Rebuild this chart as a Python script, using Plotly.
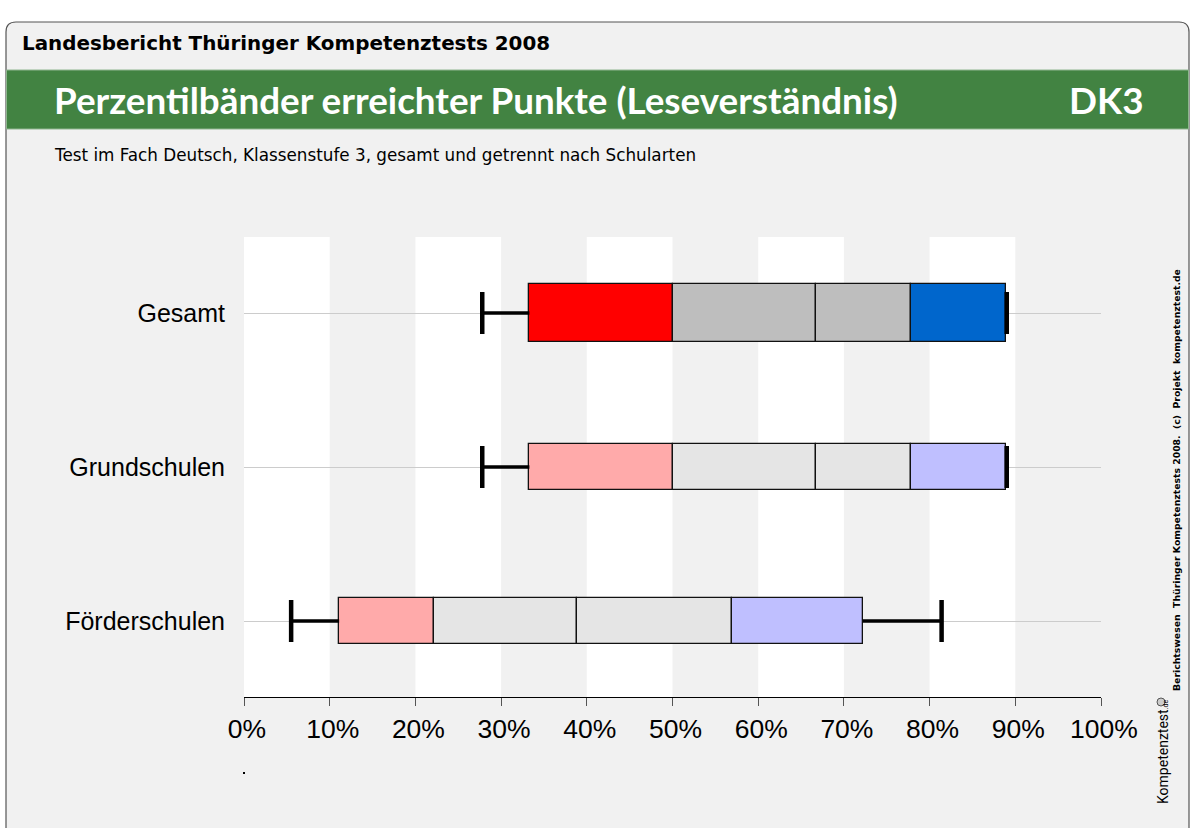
import plotly.graph_objects as go

# ---- data ----
categories = ["Gesamt", "Grundschulen", "Förderschulen"]
p5 = [27.8, 27.8, 5.5]
p10 = [33.3, 33.3, 11.1]
p25 = [50.0, 50.0, 22.2]
p50 = [66.7, 66.7, 38.9]
p75 = [77.8, 77.8, 56.9]
p90 = [88.9, 88.9, 72.2]
p95 = [89.0, 89.0, 81.4]
tick_vals = [0, 10, 20, 30, 40, 50, 60, 70, 80, 90, 100]
tick_text = [f"{v}%" for v in tick_vals]

# ---- styles ----
colors_low = ["#ff0000", "#ffaaaa", "#ffaaaa"]
colors_mid = ["#bebebe", "#e5e5e5", "#e5e5e5"]
colors_high = ["#0066cc", "#bfbfff", "#bfbfff"]
box_width = [0.377, 0.30, 0.30]
ypos = [2, 1, 0]

W, H = 1192, 828
L, R, T, B = 244, 1101, 237, 697


def px(xp):
    return (xp - L) / (R - L)


def py(yp):
    return (B - yp) / (B - T)


fig = go.Figure()

segments = [
    (p10, p25, colors_low),
    (p25, p50, colors_mid),
    (p50, p75, colors_mid),
    (p75, p90, colors_high),
]
for lo, hi, cols in segments:
    fig.add_trace(go.Bar(
        y=ypos, base=lo, x=[h - l for l, h in zip(lo, hi)],
        orientation="h", width=box_width,
        marker=dict(color=cols, line=dict(color="#111111", width=1.3)),
        showlegend=False, hoverinfo="skip",
    ))

# whiskers
for i, y in enumerate(ypos):
    fig.add_trace(go.Scatter(x=[p5[i], p10[i]], y=[y, y], mode="lines",
                             line=dict(color="black", width=3.5),
                             showlegend=False, hoverinfo="skip"))
    fig.add_trace(go.Scatter(x=[p90[i], p95[i]], y=[y, y], mode="lines",
                             line=dict(color="black", width=3.5),
                             showlegend=False, hoverinfo="skip"))
fig.add_trace(go.Scatter(
    x=p5 + p95, y=ypos + ypos, mode="markers",
    marker=dict(symbol="line-ns", size=30, line=dict(color="black", width=4.5)),
    showlegend=False, hoverinfo="skip"))

shapes = []
# frame
shapes.append(dict(
    type="path", xref="paper", yref="paper",
    path=(f"M {px(6)},{py(32)} Q {px(6)},{py(22)} {px(16)},{py(22)} "
          f"L {px(1179)},{py(22)} Q {px(1189)},{py(22)} {px(1189)},{py(32)} "
          f"L {px(1189)},{py(840)} L {px(6)},{py(840)} Z"),
    fillcolor="#f1f1f1", line=dict(color="#555555", width=1.2), layer="below"))
# green band
shapes.append(dict(type="rect", xref="paper", yref="paper",
                   x0=px(6.5), x1=px(1188.5), y0=py(129), y1=py(70),
                   fillcolor="#428342", line=dict(color="#8fb58f", width=1), layer="below"))
# white stripes
for s in range(0, 100, 20):
    shapes.append(dict(type="rect", xref="x", yref="paper", x0=s, x1=s + 10,
                       y0=0, y1=1, fillcolor="white", line=dict(width=0), layer="below"))
# tiny dot
shapes.append(dict(type="rect", xref="paper", yref="paper",
                   x0=px(243), x1=px(245), y0=py(774), y1=py(772),
                   fillcolor="black", line=dict(width=0)))
# logo circle
shapes.append(dict(type="circle", xref="paper", yref="paper",
                   x0=px(1157), x1=px(1165), y0=py(706), y1=py(698),
                   fillcolor="#cccccc", line=dict(color="#555555", width=1)))

def ann(text, x, y, xanchor="left", size=15, color="black", family="Lato", angle=0):
    return dict(text=text, x=px(x), y=py(y), xref="paper", yref="paper",
                xanchor=xanchor, yanchor="middle", showarrow=False, textangle=angle,
                font=dict(family=family, size=size, color=color))

annotations = [
    ann("<b>Landesbericht Thüringer Kompetenztests 2008</b>", 20, 43, size=19.9,
        family="DejaVu Sans"),
    ann("<b>Perzentilbänder erreichter Punkte (Leseverständnis)</b>", 52, 100,
        size=36.8, color="white"),
    ann("<b>DK3</b>", 1146, 100, xanchor="right", size=36.8, color="white"),
    ann("Test im Fach Deutsch, Klassenstufe 3, gesamt und getrennt nach Schularten",
        52, 155, size=16.8, family="DejaVu Sans"),
    ann("<b>Berichtswesen  Thüringer Kompetenztests 2008.  (c)  Projekt  kompetenztest.de</b>",
        1176, 480, xanchor="center", size=9.3, family="DejaVu Sans", angle=-90),
    ann("Kompetenztest<span style='font-size:7px'>.de</span>", 1163, 752,
        xanchor="center", size=14, family="Roboto", angle=-90),
]

fig.update_layout(
    width=W, height=H,
    margin=dict(l=L, r=W - R, t=T, b=H - B, pad=0),
    paper_bgcolor="white", plot_bgcolor="rgba(0,0,0,0)",
    barmode="overlay", bargap=0,
    shapes=shapes, annotations=annotations,
    showlegend=False,
    xaxis=dict(range=[0, 100], tickvals=tick_vals, ticktext=tick_text,
               showgrid=False, zeroline=False, showline=True, linecolor="black",
               linewidth=1, ticks="outside", ticklen=8, tickcolor="#555555",
               ticklabelshift=3,
               tickfont=dict(family="Liberation Sans", size=26.5, color="black"),
               fixedrange=True),
    yaxis=dict(range=[-0.4935, 2.4935], tickvals=ypos, ticktext=categories,
               showgrid=True, gridcolor="#cccccc", gridwidth=1, zeroline=False,
               showline=False, ticks="", ticklabelstandoff=18,
               tickfont=dict(family="Liberation Sans", size=25, color="black"),
               fixedrange=True),
)

fig.write_html("out.html", config={"displayModeBar": False},
               post_script="document.body.style.margin='0';document.body.style.overflow='hidden';")
